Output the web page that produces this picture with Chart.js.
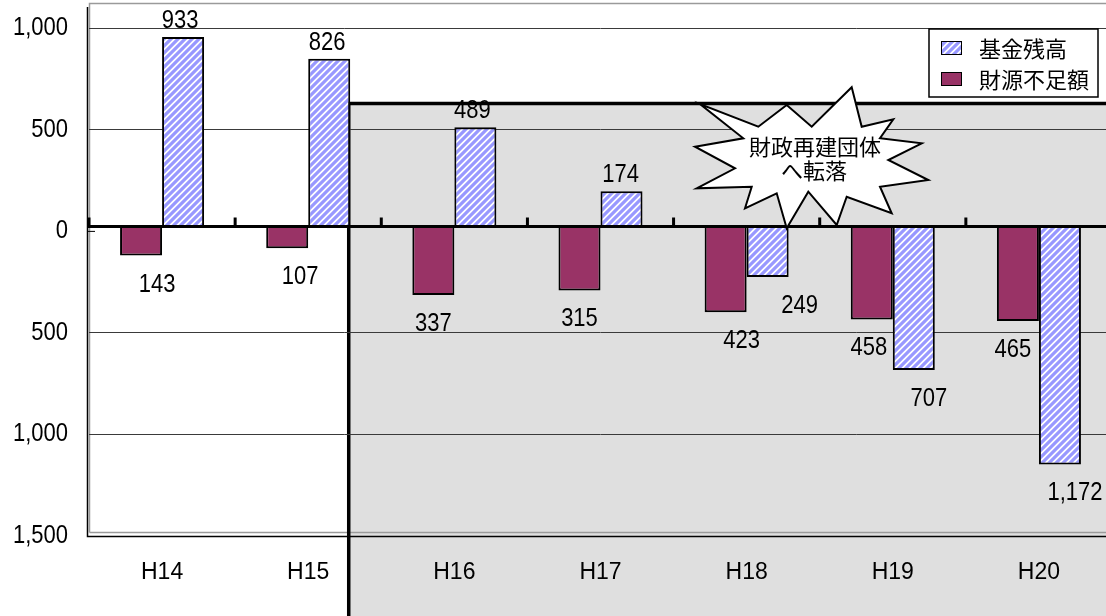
<!DOCTYPE html>
<html>
<head>
<meta charset="utf-8">
<script src="https://cdn.jsdelivr.net/npm/chart.js@4.4.1/dist/chart.umd.min.js"></script>
<style>
  html, body { margin: 0; padding: 0; background: #fff; overflow: hidden; }
  #chart { display: block; }
</style>
</head>
<body>
<!-- a little wider than the window: the plot runs off the right edge like the original -->
<canvas id="chart" width="1112" height="616"></canvas>
<script>
// data
const categories = ['H14', 'H15', 'H16', 'H17', 'H18', 'H19', 'H20'];
const kikinZandaka = [933, 826, 489, 174, -249, -707, -1172];   // 基金残高
const zaigenFusoku = [-143, -107, -337, -315, -423, -458, -465]; // 財源不足額
const yTicks = [-1500, -1000, -500, 0, 500, 1000];

const numFont = '"Liberation Sans", Arial, sans-serif';
const jpFont = '"Noto Sans CJK JP", "Noto Sans", sans-serif';

// hatch pattern for 基金残高
const hatch = (function () {
	const s = 7;
	const c = document.createElement('canvas');
	c.width = s; c.height = s;
	const g = c.getContext('2d');
	g.fillStyle = '#ffffff';
	g.fillRect(0, 0, s, s);
	g.strokeStyle = '#9898ff';
	g.lineWidth = 3.2;
	g.beginPath();
	g.moveTo(-1, s + 1); g.lineTo(s + 1, -1);
	g.moveTo(-2, 2); g.lineTo(2, -2);
	g.moveTo(s - 2, s + 2); g.lineTo(s + 2, s - 2);
	g.stroke();
	return g.createPattern(c, 'repeat');
})();

const fmt = v => Math.abs(v).toLocaleString('en-US');

// text a bit taller than wide, like the original
function tallText(ctx, txt, x, y) {
	ctx.save();
	ctx.translate(x, y);
	ctx.scale(1, 1.13);
	ctx.fillText(txt, 0, 0);
	ctx.restore();
}

// gray "after" zone + frame, behind everything
const backdrop = {
	id: 'backdrop',
	beforeDraw(chart) {
		const { ctx, chartArea: a, width, height } = chart;
		ctx.save();
		ctx.fillStyle = '#fff';
		ctx.fillRect(0, 0, width, height);

		const bar = chart.getDatasetMeta(1).data[1];
		const lx = bar.x + bar.width / 2 - 1.5;
		const ty = 103.5;
		ctx.fillStyle = '#dfdfdf';
		ctx.fillRect(lx, ty, width - lx, height - ty);

		// plot frame
		ctx.strokeStyle = '#9a9a9a';
		ctx.lineWidth = 1.5;
		ctx.beginPath();
		ctx.moveTo(a.left + 0.5, a.bottom - 3.5);
		ctx.lineTo(a.left + 0.5, a.top + 0.5);
		ctx.lineTo(width, a.top + 0.5);
		ctx.moveTo(a.left + 0.5, a.bottom - 3.5);
		ctx.lineTo(width, a.bottom - 3.5);
		ctx.stroke();
		ctx.strokeStyle = '#000';
		ctx.beginPath();
		ctx.moveTo(a.left - 1.5, a.top + 4);
		ctx.lineTo(a.left - 1.5, a.bottom + 0.5);
		ctx.lineTo(width, a.bottom + 0.5);
		ctx.stroke();

		// zone border
		ctx.lineWidth = 3.5;
		ctx.beginPath();
		ctx.moveTo(lx, height);
		ctx.lineTo(lx, ty);
		ctx.lineTo(width, ty);
		ctx.stroke();

		// value axis labels (drawn here so they take no layout room)
		const yg = chart.scales.yg;
		ctx.fillStyle = '#000';
		ctx.font = '22px ' + numFont;
		ctx.textAlign = 'right';
		ctx.textBaseline = 'middle';
		yg.ticks.forEach(t => tallText(ctx, fmt(t.value), 68, yg.getPixelForValue(t.value)));
		ctx.restore();
	}
};

// thick category axis at zero + value labels
const labelNudge = {
	0: [16, 13, 0, 0, 16, -3, -5],
	1: [-3, -2, -3, -1, 32, 15, 15]
};
const zeroAxis = {
	id: 'zeroAxis',
	afterDatasetsDraw(chart) {
		const { ctx, chartArea: a, width } = chart;
		const xs = chart.scales.x, ys = chart.scales.y, yg = chart.scales.yg;
		const y0 = ys.getPixelForValue(0);
		ctx.save();
		ctx.fillStyle = '#000';
		ctx.fillRect(a.left - 2, y0 - 1.5, width - a.left + 2, 3);
		const half = (xs.getPixelForValue(1) - xs.getPixelForValue(0)) / 2;
		categories.forEach((c, i) => {
			const bx = xs.getPixelForValue(i) - half;
			ctx.fillRect(bx - 1.5, y0 - 9, 3, 9);
		});
		ctx.fillRect(a.left - 2, yg.getPixelForValue(0) - 0.5, 8, 1);

		// value labels
		ctx.font = '22px ' + numFont;
		ctx.textAlign = 'center';
		ctx.textBaseline = 'alphabetic';
		chart.data.datasets.forEach((ds, di) => {
			chart.getDatasetMeta(di).data.forEach((el, i) => {
				const v = ds.data[i];
				const y = v >= 0 ? el.y - 9 : el.y + 36;
				tallText(ctx, fmt(v), el.x + labelNudge[di][i], y);
			});
		});
		ctx.restore();
	}
};

// starburst callout + legend box on top
const starPts = [
	[851.7, 87.3], [861.7, 126.7], [893.3, 119.3], [880, 138.3], [921.7, 143.3],
	[888.3, 160], [928.3, 180], [880, 186.7], [891.7, 213.3], [846.7, 196.7],
	[836.7, 225], [808.3, 191.7], [786.7, 228.3], [776.7, 193.3], [745, 208.3],
	[751.7, 186.7], [696.7, 188.3], [735, 168.3], [695, 146.7], [743.3, 138.3],
	[700, 104], [758.3, 126.7], [786.7, 105], [811.7, 126.7]
];
const overlay = {
	id: 'overlay',
	afterDraw(chart) {
		const ctx = chart.ctx;
		ctx.save();
		ctx.beginPath();
		starPts.forEach((p, i) => i ? ctx.lineTo(p[0], p[1]) : ctx.moveTo(p[0], p[1]));
		ctx.closePath();
		ctx.fillStyle = '#fff';
		ctx.fill();
		ctx.strokeStyle = '#000';
		ctx.lineWidth = 2;
		ctx.lineJoin = 'miter';
		ctx.stroke();
		ctx.fillStyle = '#000';
		ctx.font = '22px ' + jpFont;
		ctx.textAlign = 'center';
		ctx.textBaseline = 'middle';
		ctx.fillText('財政再建団体', 815, 147);
		ctx.fillText('へ転落', 814, 171);

		// legend
		ctx.fillStyle = '#fff';
		ctx.fillRect(929, 29, 169, 68);
		ctx.lineWidth = 1.5;
		ctx.strokeRect(929, 29, 169, 68);
		const items = [1, 0];
		items.forEach((di, k) => {
			const ds = chart.data.datasets[di];
			const sy = 41 + k * 31;
			ctx.fillStyle = ds.backgroundColor;
			ctx.fillRect(941, sy, 21, 13);
			ctx.lineWidth = 1;
			ctx.strokeStyle = '#000';
			ctx.strokeRect(941.5, sy + 0.5, 20, 13);
			ctx.fillStyle = '#000';
			ctx.textAlign = 'left';
			ctx.fillText(ds.label, 979, sy + 8);
		});
		ctx.restore();
	}
};

new Chart(document.getElementById('chart'), {
	type: 'bar',
	data: {
		labels: categories,
		datasets: [
			{
				label: '財源不足額',
				data: zaigenFusoku,
				backgroundColor: '#993366',
				borderColor: '#000',
				borderWidth: 2,
				yAxisID: 'y'
			},
			{
				label: '基金残高',
				data: kikinZandaka,
				backgroundColor: hatch,
				borderColor: '#000',
				borderWidth: 2,
				yAxisID: 'y'
			}
		]
	},
	options: {
		responsive: false,
		animation: false,
		layout: { padding: { left: 0, right: 0, top: 3, bottom: 0 } },
		datasets: { bar: { categoryPercentage: 0.575, barPercentage: 1 } },
		plugins: {
			legend: { display: false },
			tooltip: { enabled: false }
		},
		scales: {
			x: {
				grid: { display: false, drawTicks: false },
				border: { display: false },
				ticks: { color: '#000', font: { family: numFont, size: 23 }, padding: 23 },
				afterFit: s => { s.height = 80; }
			},
			// bars hang off this one
			y: {
				display: false,
				min: -1524.6,
				max: 1101
			},
			// gridlines + labels sit ~5px lower than the bars' zero, as in the original
			yg: {
				position: 'left',
				min: -1500,
				max: 1124.6,
				afterBuildTicks: s => { s.ticks = yTicks.map(v => ({ value: v })); },
				afterFit: s => { s.width = 89; },
				border: { display: false },
				grid: {
					drawTicks: false,
					lineWidth: 1,
					color: c => (c.tick && (c.tick.value === 0 || c.tick.value === -1500)) ? 'rgba(0,0,0,0)' : '#3a3a3a'
				},
				ticks: { display: false }
			}
		}
	},
	plugins: [backdrop, zeroAxis, overlay]
});
</script>
</body>
</html>
